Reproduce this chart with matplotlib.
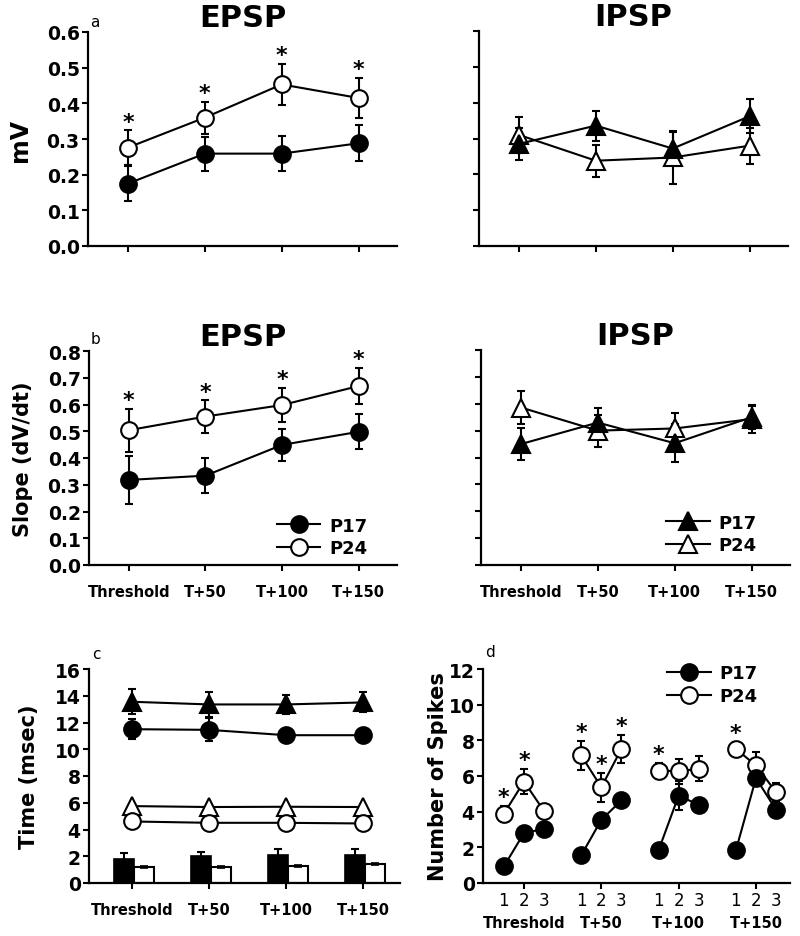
import numpy as np
import matplotlib
matplotlib.use('Agg')
import matplotlib.pyplot as plt
from matplotlib.transforms import blended_transform_factory

plt.rcParams['font.family'] = ['DejaVu Sans']

stages = ['Threshold', 'T+50', 'T+100', 'T+150']

# a: amplitude (mV)
epsp_amp_p17 = [0.175, 0.259, 0.259, 0.288]
epsp_amp_p17_err = [0.05, 0.048, 0.05, 0.05]
epsp_amp_p24 = [0.276, 0.36, 0.453, 0.415]
epsp_amp_p24_err = [0.048, 0.045, 0.058, 0.057]
epsp_amp_sig = [1, 1, 1, 1]
ipsp_amp_p17 = [0.285, 0.336, 0.272, 0.362]
ipsp_amp_p17_err = [0.045, 0.042, 0.045, 0.048]
ipsp_amp_p24 = [0.31, 0.238, 0.247, 0.28]
ipsp_amp_p24_err = [0.05, 0.045, 0.075, 0.05]

# b: slope (dV/dt)
epsp_slope_p17 = [0.318, 0.334, 0.449, 0.498]
epsp_slope_p17_err = [0.09, 0.065, 0.06, 0.065]
epsp_slope_p24 = [0.504, 0.555, 0.598, 0.669]
epsp_slope_p24_err = [0.08, 0.06, 0.065, 0.068]
epsp_slope_sig = [1, 1, 1, 1]
ipsp_slope_p17 = [0.45, 0.53, 0.453, 0.55]
ipsp_slope_p17_err = [0.06, 0.055, 0.07, 0.045]
ipsp_slope_p24 = [0.586, 0.5, 0.508, 0.543]
ipsp_slope_p24_err = [0.063, 0.06, 0.058, 0.05]

# c: time (msec)
time_ipsp_p17 = [13.55, 13.35, 13.35, 13.5]
time_ipsp_p17_err = [0.95, 0.95, 0.7, 0.75]
time_epsp_p17 = [11.5, 11.45, 11.05, 11.05]
time_epsp_p17_err = [0.75, 0.85, 0.45, 0.4]
time_ipsp_p24 = [5.75, 5.68, 5.7, 5.68]
time_ipsp_p24_err = [0.15, 0.15, 0.15, 0.15]
time_epsp_p24 = [4.6, 4.5, 4.5, 4.45]
time_epsp_p24_err = [0.15, 0.15, 0.15, 0.15]
bar_p17 = [1.79, 1.99, 2.12, 2.12]
bar_p17_err = [0.42, 0.35, 0.42, 0.42]
bar_p24 = [1.17, 1.22, 1.25, 1.42]
bar_p24_err = [0.08, 0.08, 0.08, 0.08]

# d: number of spikes, pulses 1-3 at each stage
pulses = ['1', '2', '3']
spikes_p17 = [[0.93, 2.8, 3.04], [1.55, 3.54, 4.63], [1.83, 4.9, 4.38], [1.83, 5.88, 4.1]]
spikes_p17_err = [[0.3, 0.3, 0.3], [0.3, 0.4, 0.3], [0.3, 0.8, 0.4], [0.3, 0.4, 0.4]]
spikes_p24 = [[3.88, 5.69, 4.03], [7.15, 5.37, 7.52], [6.3, 6.27, 6.4], [7.52, 6.59, 5.09]]
spikes_p24_err = [[0.45, 0.7, 0.35], [0.8, 0.8, 0.8], [0.45, 0.7, 0.7], [0.4, 0.75, 0.5]]
spikes_sig = [[1, 1, 0], [1, 1, 1], [1, 0, 0], [1, 0, 0]]

W, H = 800, 937
fig = plt.figure(figsize=(W / 100, H / 100), dpi=100)


def px_axes(x0, x1, y0, y1):
    return fig.add_axes([x0 / W, 1 - y1 / H, (x1 - x0) / W, (y1 - y0) / H])


def style(ax, ymax, step, fmt, show_labels=True):
    for s in ['top', 'right']:
        ax.spines[s].set_visible(False)
    for s in ['left', 'bottom']:
        ax.spines[s].set_linewidth(1.6)
    ax.set_ylim(0, ymax)
    ticks = np.arange(0, ymax + step / 2, step)
    ax.set_yticks(ticks)
    if show_labels:
        ax.set_yticklabels([fmt.format(t) for t in ticks])
    else:
        ax.set_yticklabels([])
    ax.tick_params(direction='out', length=4, width=1.5, labelsize=13.5, pad=2)
    for lab in ax.get_yticklabels():
        lab.set_fontweight('bold')


def series(ax, x, y, err, marker, filled, z=2, ms=12):
    ax.errorbar(x, y, yerr=err, fmt='none', ecolor='black', elinewidth=1.5,
                capsize=3, capthick=1.5, zorder=z)
    line, = ax.plot(x, y, '-', color='black', lw=1.5, marker=marker, ms=ms,
                    mfc='black' if filled else 'white', mec='black', mew=1.5,
                    zorder=z + 0.5)
    return line


def stars(ax, x, y, err, sig):
    for xi, yi, ei, s in zip(x, y, err, sig):
        if s:
            ax.annotate('*', xy=(xi, yi + ei), xytext=(0, 2), textcoords='offset points',
                        ha='center', va='baseline', fontsize=16, fontweight='bold')


def letter(ax, txt, dx, dy):
    ax.annotate(txt, xy=(0, 1), xycoords='axes fraction', xytext=(dx, dy),
                textcoords='offset points', ha='left', va='baseline', fontsize=11)


def legend(ax, handles, x, y):
    ax.legend(handles, ['P17', 'P24'], loc='center left', bbox_to_anchor=(x, y),
              frameon=False, handlelength=2.4, handletextpad=0.5, labelspacing=0.25,
              borderpad=0, borderaxespad=0, prop={'size': 13, 'weight': 'bold'})


x = np.arange(len(stages))

# ---- a ----
ax = px_axes(88, 397, 33, 247)
style(ax, 0.6, 0.1, '{:.1f}')
series(ax, x, epsp_amp_p17, epsp_amp_p17_err, 'o', True)
series(ax, x, epsp_amp_p24, epsp_amp_p24_err, 'o', False)
stars(ax, x, epsp_amp_p24, epsp_amp_p24_err, epsp_amp_sig)
ax.set_xlim(-0.52, 3.5)
ax.set_xticks(x, [])
ax.set_ylabel('mV', fontsize=17, fontweight='bold')
ax.yaxis.set_label_coords(-0.181, 0.5)
ax.set_title('EPSP', fontsize=22, fontweight='bold', pad=1)
letter(ax, 'a', 1.5, 4.5)

ax = px_axes(479, 788, 32, 247)
style(ax, 0.6, 0.1, '{:.1f}', show_labels=False)
series(ax, x, ipsp_amp_p24, ipsp_amp_p24_err, '^', False, ms=13)
series(ax, x, ipsp_amp_p17, ipsp_amp_p17_err, '^', True, ms=13)
ax.set_xlim(-0.52, 3.5)
ax.set_xticks(x, [])
ax.set_title('IPSP', fontsize=22, fontweight='bold', pad=1)

# ---- b ----
ax = px_axes(89, 397, 352, 566)
style(ax, 0.8, 0.1, '{:.1f}')
h17 = series(ax, x, epsp_slope_p17, epsp_slope_p17_err, 'o', True)
h24 = series(ax, x, epsp_slope_p24, epsp_slope_p24_err, 'o', False)
stars(ax, x, epsp_slope_p24, epsp_slope_p24_err, epsp_slope_sig)
ax.set_xlim(-0.52, 3.5)
ax.set_xticks(x, stages)
ax.tick_params(axis='x', labelsize=10.5, pad=10)
for lab in ax.get_xticklabels():
    lab.set_fontweight('bold')
ax.set_ylabel('Slope (dV/dt)', fontsize=15, fontweight='bold')
ax.yaxis.set_label_coords(-0.182, 0.5)
ax.set_title('EPSP', fontsize=22, fontweight='bold', pad=1)
letter(ax, 'b', 1.5, 6)
legend(ax, [h17, h24], 0.61, 0.131)

ax = px_axes(481, 790, 351, 566)
style(ax, 0.8, 0.1, '{:.1f}', show_labels=False)
h24 = series(ax, x, ipsp_slope_p24, ipsp_slope_p24_err, '^', False, ms=13)
h17 = series(ax, x, ipsp_slope_p17, ipsp_slope_p17_err, '^', True, ms=13)
ax.set_xlim(-0.52, 3.5)
ax.set_xticks(x, stages)
ax.tick_params(axis='x', labelsize=10.5, pad=10)
for lab in ax.get_xticklabels():
    lab.set_fontweight('bold')
ax.set_title('IPSP', fontsize=22, fontweight='bold', pad=1)
legend(ax, [h17, h24], 0.60, 0.144)

# ---- c ----
ax = px_axes(89, 400, 670, 884)
style(ax, 16, 2, '{:.0f}')
bw = 0.26
ax.bar(x - 0.1, bar_p17, bw, yerr=bar_p17_err, color='black', edgecolor='black',
       lw=1.2, capsize=3, error_kw=dict(elinewidth=1.5, capthick=1.5), zorder=2)
ax.bar(x + 0.16, bar_p24, bw, yerr=bar_p24_err, color='white', edgecolor='black',
       lw=1.5, capsize=3, error_kw=dict(elinewidth=1.2, capthick=1.2), zorder=2)
series(ax, x, time_ipsp_p17, time_ipsp_p17_err, '^', True, ms=13)
series(ax, x, time_epsp_p17, time_epsp_p17_err, 'o', True)
series(ax, x, time_ipsp_p24, time_ipsp_p24_err, '^', False, ms=13)
series(ax, x, time_epsp_p24, time_epsp_p24_err, 'o', False)
ax.set_xlim(-0.56, 3.48)
ax.set_xticks(x, stages)
ax.tick_params(axis='x', labelsize=10.5, pad=10)
for lab in ax.get_xticklabels():
    lab.set_fontweight('bold')
ax.set_ylabel('Time (msec)', fontsize=15, fontweight='bold')
ax.yaxis.set_label_coords(-0.16, 0.5)
letter(ax, 'c', 2, 8)

# ---- d ----
ax = px_axes(483, 790, 670, 884)
style(ax, 12, 2, '{:.0f}')
offs = np.array([-0.26, 0.0, 0.26])
for g in range(len(stages)):
    xs = g + offs
    h24 = series(ax, xs, spikes_p24[g], spikes_p24_err[g], 'o', False)
    h17 = series(ax, xs, spikes_p17[g], spikes_p17_err[g], 'o', True, z=3)
    stars(ax, xs, spikes_p24[g], spikes_p24_err[g], spikes_sig[g])
ax.set_xlim(-0.53, 3.44)
allx = (x[:, None] + offs[None, :]).ravel()
ax.set_xticks(allx, pulses * len(stages))
ax.tick_params(axis='x', length=0, labelsize=12, pad=6)
ax.set_xticks(x, minor=True)
ax.xaxis.remove_overlapping_locs = False
ax.tick_params(axis='x', which='minor', length=4, width=1.5, direction='out')
tr = blended_transform_factory(ax.transData, ax.transAxes)
for xi, s in zip(x, stages):
    ax.text(xi, -0.15, s, transform=tr, ha='center', va='top', fontsize=10.5,
            fontweight='bold')
ax.set_ylabel('Number of Spikes', fontsize=15, fontweight='bold')
ax.yaxis.set_label_coords(-0.114, 0.5)
letter(ax, 'd', 1.5, 9.4)
legend(ax, [h17, h24], 0.60, 0.927)

fig.savefig('out.png', dpi=100, facecolor='white')
